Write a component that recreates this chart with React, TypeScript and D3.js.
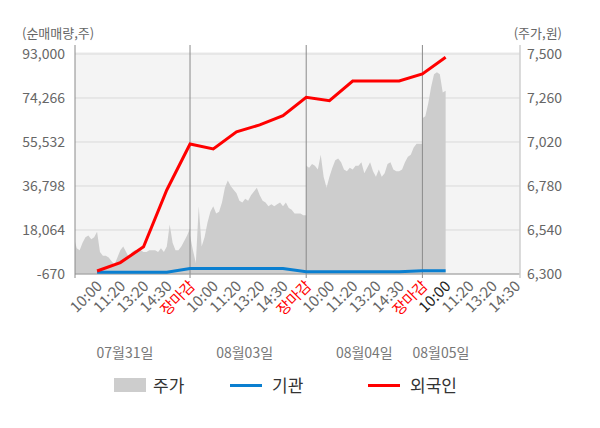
import * as d3 from "d3";

// price (주가) per day, sampled every 1/8 of a label slot from market open
const PRICE_D1 = [
  6500, 6440, 6430, 6470, 6500, 6510, 6490, 6500, 6530, 6420, 6400, 6400, 6390, 6370,
  6350, 6390, 6430, 6450, 6420, 6390, 6420, 6430, 6430, 6430, 6420, 6420, 6430, 6430,
  6430, 6420, 6440, 6420, 6450, 6570, 6470, 6430, 6430, 6450, 6480, 6510, 6550,
];
const PRICE_D2 = [
  6510, 6430, 6360, 6670, 6450, 6500, 6580, 6640, 6670, 6630, 6640, 6690, 6770, 6810,
  6780, 6760, 6740, 6700, 6690, 6710, 6700, 6730, 6750, 6770, 6730, 6700, 6690, 6670,
  6680, 6670, 6680, 6690, 6670, 6690, 6660, 6650, 6630, 6630, 6630, 6620, 6620,
];
const PRICE_D3 = [
  6890, 6880, 6900, 6890, 6870, 6950, 6830, 6770, 6830, 6880, 6920, 6930, 6910, 6870,
  6860, 6880, 6870, 6890, 6890, 6910, 6850, 6880, 6910, 6860, 6830, 6870, 6830, 6850,
  6900, 6910, 6870, 6860, 6860, 6870, 6910, 6940, 6950, 6990, 7010, 7010, 7010,
];
const PRICE_D4 = [7150, 7160, 7230, 7320, 7390, 7400, 7390, 7290, 7300];

// cumulative net buying (순매매량) at each label slot, 10:00 of day 1 onwards
const FOREIGN = [
  600, 4200, 10900, 35100, 54700, 52600, 59900, 62800, 66700, 74600, 73100, 81500,
  81500, 81500, 84500, 91600,
];
const INSTITUTION = [
  50, 50, 50, 50, 1670, 1670, 1670, 1670, 1670, 300, 300, 300, 300, 300, 700, 700,
];

const DATES = ["07월31일", "08월03일", "08월04일", "08월05일"];
const TICK_LABELS = [
  "10:00", "11:20", "13:20", "14:30", "장마감",
  "10:00", "11:20", "13:20", "14:30", "장마감",
  "10:00", "11:20", "13:20", "14:30", "장마감",
  "10:00", "11:20", "13:20", "14:30",
];
const LEFT_TICKS = [-670, 18064, 36798, 55532, 74266, 93000];
const RIGHT_TICKS = [6300, 6540, 6780, 7020, 7260, 7500];

const FONT = "'Noto Sans CJK KR', 'Noto Sans', sans-serif";
const SLOTS_PER_DAY = 5;
const DATE_SLOT = [2.2, 7.35, 12.5, 15.8];

const left = 75;
const right = 520;
const top = 54;
const bottom = 274;

const fmt = (v: number) => d3.format(",")(v).replace("\u2212", "-");

export default function App() {
  const x = d3.scaleLinear().domain([0.05, 19.2]).range([left, right]);
  const yL = d3.scaleLinear().domain([-670, 93000]).range([bottom, top]);
  const yR = d3.scaleLinear().domain([6300, 7500]).range([bottom, top]);

  const pricePts: { s: number; p: number }[] = [];
  [PRICE_D1, PRICE_D2, PRICE_D3, PRICE_D4].forEach((day, d) => {
    day.forEach((p, i) => pricePts.push({ s: d * SLOTS_PER_DAY + i / 8, p }));
  });

  const area = d3
    .area<{ s: number; p: number }>()
    .x((d) => x(d.s))
    .y0(bottom)
    .y1((d) => yR(d.p));

  const line = d3
    .line<number>()
    .x((_, i) => x(i + 1))
    .y((v) => yL(v));

  const tickColor = (label: string, i: number) => {
    if (label === "장마감") return "#ff0000";
    if (i === 15) return "#222";
    return "#666";
  };

  return (
    <svg
      width={600}
      height={428}
      style={{ position: "absolute", left: 0, top: 0, background: "#fff" }}
      fontFamily={FONT}
    >
      <defs>
        <clipPath id="plot">
          <rect x={left} y={top - 2} width={right - left} height={bottom - top + 2} />
        </clipPath>
      </defs>

      <rect x={left} y={52} width={right - left} height={bottom - 52} fill="#f4f4f4" />

      {LEFT_TICKS.map((t) => (
        <line key={t} x1={left} x2={right} y1={yL(t)} y2={yL(t)} stroke="#d9d9d9" />
      ))}

      <path d={area(pricePts) ?? ""} fill="#cdcdcd" clipPath="url(#plot)" />

      {[1, 2, 3].map((d) => (
        <line
          key={d}
          x1={x(d * SLOTS_PER_DAY)}
          x2={x(d * SLOTS_PER_DAY)}
          y1={45}
          y2={278}
          stroke="#8a8a8a"
        />
      ))}

      <line x1={left} x2={right} y1={bottom} y2={bottom} stroke="#9a9a9a" />
      <line x1={left} x2={left} y1={45} y2={278} stroke="#8a8a8a" />
      <line x1={right} x2={right} y1={45} y2={278} stroke="#cfcfcf" strokeWidth={1.5} />

      <path
        d={line(INSTITUTION) ?? ""}
        fill="none"
        stroke="#0a7fd0"
        strokeWidth={3}
        clipPath="url(#plot)"
      />
      <path d={line(FOREIGN) ?? ""} fill="none" stroke="#ff0000" strokeWidth={3} />

      {LEFT_TICKS.map((t) => (
        <text
          key={t}
          x={65}
          y={yL(t)}
          dy="0.35em"
          textAnchor="end"
          fontSize={14}
          fill="#666"
        >
          {fmt(t)}
        </text>
      ))}
      {RIGHT_TICKS.map((t) => (
        <text key={t} x={527} y={yR(t)} dy="0.35em" fontSize={14} fill="#666">
          {fmt(t)}
        </text>
      ))}

      <text x={22} y={38} fontSize={13} fill="#666">
        (순매매량,주)
      </text>
      <text x={562} y={38} fontSize={13} fill="#666" textAnchor="end">
        (주가,원)
      </text>

      {TICK_LABELS.map((label, i) => {
        const tx = x(i + 1) + 6;
        const ty = 287;
        return (
          <text
            key={i}
            x={tx}
            y={ty}
            textAnchor="end"
            fontSize={15}
            fill={tickColor(label, i)}
            transform={`rotate(-45, ${tx}, ${ty})`}
          >
            {label}
          </text>
        );
      })}

      {DATES.map((d, i) => (
        <text
          key={d}
          x={x(DATE_SLOT[i])}
          y={358}
          textAnchor="middle"
          fontSize={14}
          fill="#777"
        >
          {d}
        </text>
      ))}

      <g fontSize={17} fill="#333">
        <rect x={114} y={378} width={32} height={14} fill="#cdcdcd" />
        <text x={153} y={392}>주가</text>
        <line x1={230} x2={262} y1={385.5} y2={385.5} stroke="#0a7fd0" strokeWidth={3} />
        <text x={272} y={392}>기관</text>
        <line x1={368} x2={400} y1={385.5} y2={385.5} stroke="#ff0000" strokeWidth={3} />
        <text x={410} y={392}>외국인</text>
      </g>
    </svg>
  );
}
